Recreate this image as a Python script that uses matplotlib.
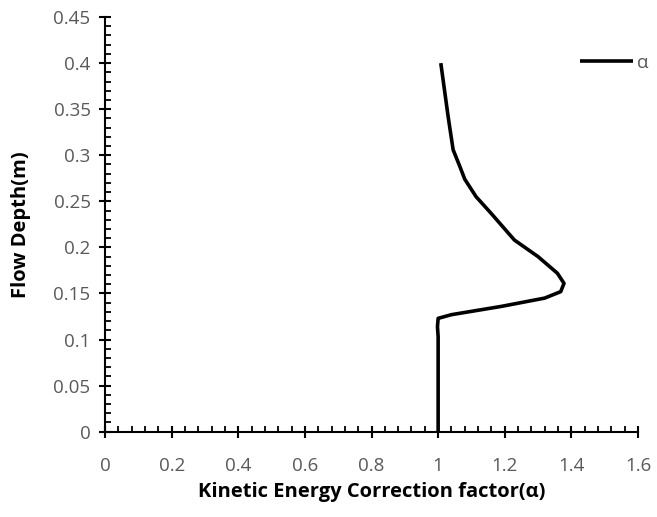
import matplotlib.pyplot as plt
from matplotlib.ticker import MultipleLocator

# values
alpha = [1.0, 1.0, 0.998, 1.0, 1.04, 1.19, 1.32, 1.368, 1.378, 1.358, 1.30,
         1.229, 1.159, 1.114, 1.08, 1.065, 1.045, 1.03, 1.008]
depth = [0.0, 0.103, 0.114, 0.123, 0.127, 0.136, 0.145, 0.152, 0.161, 0.172,
         0.190, 0.208, 0.237, 0.255, 0.274, 0.288, 0.306, 0.342, 0.400]

x_ticks = [0, 0.2, 0.4, 0.6, 0.8, 1, 1.2, 1.4, 1.6]
x_tick_labels = ['0', '0.2', '0.4', '0.6', '0.8', '1', '1.2', '1.4', '1.6']
y_ticks = [0, 0.05, 0.1, 0.15, 0.2, 0.25, 0.3, 0.35, 0.4, 0.45]
y_tick_labels = ['0', '0.05', '0.1', '0.15', '0.2', '0.25', '0.3', '0.35', '0.4', '0.45']

plt.rcParams['font.family'] = ['Open Sans', 'DejaVu Sans']

fig = plt.figure(figsize=(6.57, 5.17), dpi=100)
ax = fig.add_axes([0.160, 0.165, 0.811, 0.802])

ax.plot(alpha, depth, color='black', linewidth=2.6, label='α',
        solid_joinstyle='round', solid_capstyle='butt')

ax.set_xlim(0, 1.6)
ax.set_ylim(0, 0.45)
ax.xaxis.set_minor_locator(MultipleLocator(0.04))
ax.yaxis.set_minor_locator(MultipleLocator(0.01))
ax.set_xticks(x_ticks)
ax.set_xticklabels(x_tick_labels)
ax.set_yticks(y_ticks)
ax.set_yticklabels(y_tick_labels)

for s in ['top', 'right']:
    ax.spines[s].set_visible(False)
for s in ['left', 'bottom']:
    ax.spines[s].set_linewidth(1.5)
    ax.spines[s].set_color('black')

ax.tick_params(which='major', direction='inout', length=9, width=1.5,
               color='black', labelsize=13.5, labelcolor='#595959')
ax.tick_params(axis='x', which='major', pad=14)
ax.tick_params(axis='y', which='major', pad=6)
ax.tick_params(which='minor', direction='in', length=4, width=1.3, color='black')

ax.set_xlabel('Kinetic Energy Correction factor(α)', fontsize=14.5,
              fontweight='bold', labelpad=5)
ax.set_ylabel('Flow Depth(m)', fontsize=14.5, fontweight='bold', labelpad=16)

leg = fig.legend(*ax.get_legend_handles_labels(), loc='center left',
                 bbox_to_anchor=(580 / 657, 1 - 62.7 / 517), frameon=False,
                 fontsize=13.5, handlelength=2.8, handletextpad=0.25,
                 borderpad=0, borderaxespad=0)
for t in leg.get_texts():
    t.set_color('#595959')

fig.savefig('out.png', dpi=100)
